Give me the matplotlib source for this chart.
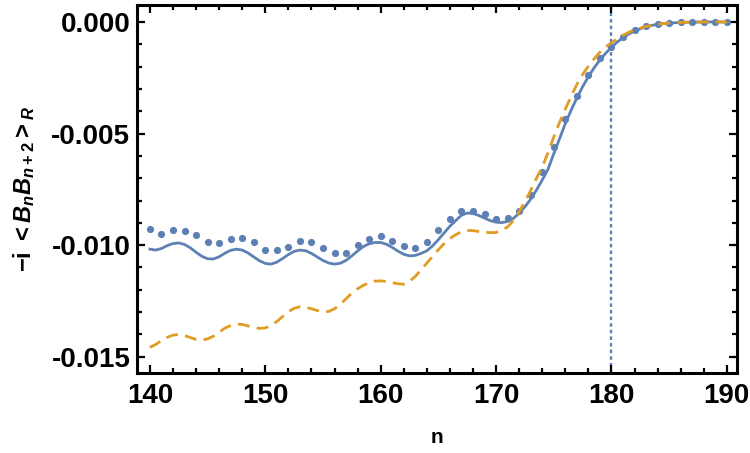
import matplotlib
matplotlib.use("Agg")
import matplotlib.pyplot as plt
from matplotlib.ticker import MultipleLocator

# values
n_dots = list(range(140, 191))
v_dots = [-0.00928, -0.00948, -0.00931, -0.00936, -0.00954, -0.00985, -0.00991,
          -0.00973, -0.00970, -0.00984, -0.01021, -0.01021, -0.01009, -0.00982,
          -0.00988, -0.01015, -0.01033, -0.01033, -0.00999, -0.00972, -0.00958,
          -0.00981, -0.01003, -0.01011, -0.00984, -0.00930, -0.00883, -0.00846,
          -0.00849, -0.00859, -0.00881, -0.00880, -0.00845, -0.00777, -0.00671,
          -0.00560, -0.00437, -0.00331, -0.00236, -0.00162, -0.00111, -0.00066,
          -0.00037, -0.00019, -0.00009, -0.00004, 0.0, 0.0, 0.0, 0.0, 0.0]

n_line = [140, 140.5, 141, 141.5, 142, 142.5, 143, 143.5, 144, 144.5,
          145, 145.5, 146, 146.5, 147, 147.5, 148, 148.5, 149, 149.5,
          150, 150.5, 151, 151.5, 152, 152.5, 153, 153.5, 154, 154.5,
          155, 155.5, 156, 156.5, 157, 157.5, 158, 158.5, 159, 159.5,
          160, 160.5, 161, 161.5, 162, 162.5, 163, 163.5, 164, 164.5,
          165, 165.5, 166, 166.5, 167, 167.5, 168, 168.5, 169, 169.5,
          170, 170.5, 171, 171.5, 172, 172.5, 173, 173.5, 174, 174.5,
          175, 175.5, 176, 176.5, 177, 177.5, 178, 178.5, 179, 179.5,
          180, 180.5, 181, 181.5, 182, 183, 184, 185, 186, 187, 188, 189, 190]

v_solid = [-0.01018, -0.01022, -0.01015, -0.01002, -0.00993, -0.00990, -0.00997, -0.01012, -0.01032, -0.01050,
           -0.01061, -0.01062, -0.01052, -0.01036, -0.01023, -0.01018, -0.01022, -0.01035, -0.01053, -0.01070,
           -0.01082, -0.01085, -0.01076, -0.01060, -0.01042, -0.01028, -0.01022, -0.01025, -0.01037, -0.01053,
           -0.01069, -0.01080, -0.01085, -0.01081, -0.01068, -0.01048, -0.01026, -0.01006, -0.00994, -0.00988,
           -0.00988, -0.00996, -0.01010, -0.01027, -0.01041, -0.01048, -0.01046, -0.01037, -0.01025, -0.01003,
           -0.00975, -0.00945, -0.00915, -0.00890, -0.00866, -0.00856, -0.00858, -0.00867, -0.00879, -0.00890,
           -0.00897, -0.00899, -0.00894, -0.00880, -0.00857, -0.00828, -0.00794, -0.00753, -0.00708, -0.00660,
           -0.00590, -0.00523, -0.00455, -0.00396, -0.00340, -0.00290, -0.00245, -0.00205, -0.00170, -0.00140,
           -0.00113, -0.00090, -0.00070, -0.00054, -0.00040, -0.00021, -0.00010, -0.00005, -0.00002, -0.00001, 0.0, 0.0, 0.0]

v_dash = [-0.01458, -0.01445, -0.01428, -0.01413, -0.01403, -0.01401, -0.01405, -0.01414, -0.01422, -0.01425,
          -0.01420, -0.01408, -0.01390, -0.01372, -0.01360, -0.01354, -0.01355, -0.01362, -0.01369, -0.01373,
          -0.01371, -0.01360, -0.01342, -0.01320, -0.01298, -0.01283, -0.01276, -0.01278, -0.01285, -0.01293,
          -0.01298, -0.01297, -0.01285, -0.01265, -0.01240, -0.01215, -0.01195, -0.01180, -0.01168, -0.01161,
          -0.01160, -0.01163, -0.01168, -0.01173, -0.01175, -0.01162, -0.01140, -0.01110, -0.01080, -0.01050,
          -0.01020, -0.00993, -0.00970, -0.00953, -0.00940, -0.00934, -0.00935, -0.00939, -0.00942, -0.00944,
          -0.00943, -0.00935, -0.00918, -0.00890, -0.00850, -0.00805, -0.00755, -0.00700, -0.00650, -0.00585,
          -0.00515, -0.00450, -0.00390, -0.00333, -0.00280, -0.00235, -0.00198, -0.00165, -0.00135, -0.00112,
          -0.00093, -0.00075, -0.00060, -0.00046, -0.00035, -0.00020, -0.00010, -0.00005, -0.00002, -0.00001, 0.0, 0.0, 0.0]

n_mark = 180

blue = '#5E81B5'
orange = '#E19C24'

plt.rcParams['font.family'] = 'Liberation Sans'
plt.rcParams['font.weight'] = 'bold'
plt.rcParams['mathtext.fontset'] = 'custom'
plt.rcParams['mathtext.rm'] = 'Liberation Sans:bold'
plt.rcParams['mathtext.bf'] = 'Liberation Sans:bold'
plt.rcParams['mathtext.it'] = 'Liberation Sans:bold:italic'
plt.rcParams['mathtext.bfit'] = 'Liberation Sans:bold:italic'

fig = plt.figure(figsize=(7.5, 4.53), dpi=100)
ax = fig.add_axes([0.183, 0.177, 0.800, 0.812])

ax.plot(n_dots, v_dots, 'o', color=blue, ms=5.2, mec='none', zorder=3)
ax.plot(n_line, v_solid, '-', color=blue, lw=2.0, zorder=2)
ax.plot(n_line, v_dash, color=orange, lw=2.0, ls=(0, (4.3, 2.6)), zorder=4)
ax.axvline(n_mark, color=blue, lw=1.7, ls=(0, (1.5, 1.3)), zorder=1)

ax.set_xlim(138.9, 190.9)
ax.set_ylim(-0.01572, 0.00076)

ax.xaxis.set_major_locator(MultipleLocator(10))
ax.xaxis.set_minor_locator(MultipleLocator(2))
ax.yaxis.set_major_locator(MultipleLocator(0.005))
ax.yaxis.set_minor_locator(MultipleLocator(0.001))
ax.yaxis.set_major_formatter(matplotlib.ticker.FormatStrFormatter('%.3f'))

ax.tick_params(which='both', direction='in', top=True, right=True, width=1.6)
ax.tick_params(which='major', length=6)
ax.tick_params(which='minor', length=3.5)
ax.tick_params(axis='x', labelsize=20, pad=7)
ax.tick_params(axis='y', labelsize=20, pad=5)
for s in ax.spines.values():
    s.set_linewidth(2.2)

ax.set_xlabel('n', fontsize=15, fontweight='bold', labelpad=14)
ax.set_ylabel(r'$\mathrm{-i}\ \mathrm{<}B_nB_{n+2}\mathrm{>}_R$', fontsize=17, labelpad=10)

fig.savefig('out.png', dpi=100)
